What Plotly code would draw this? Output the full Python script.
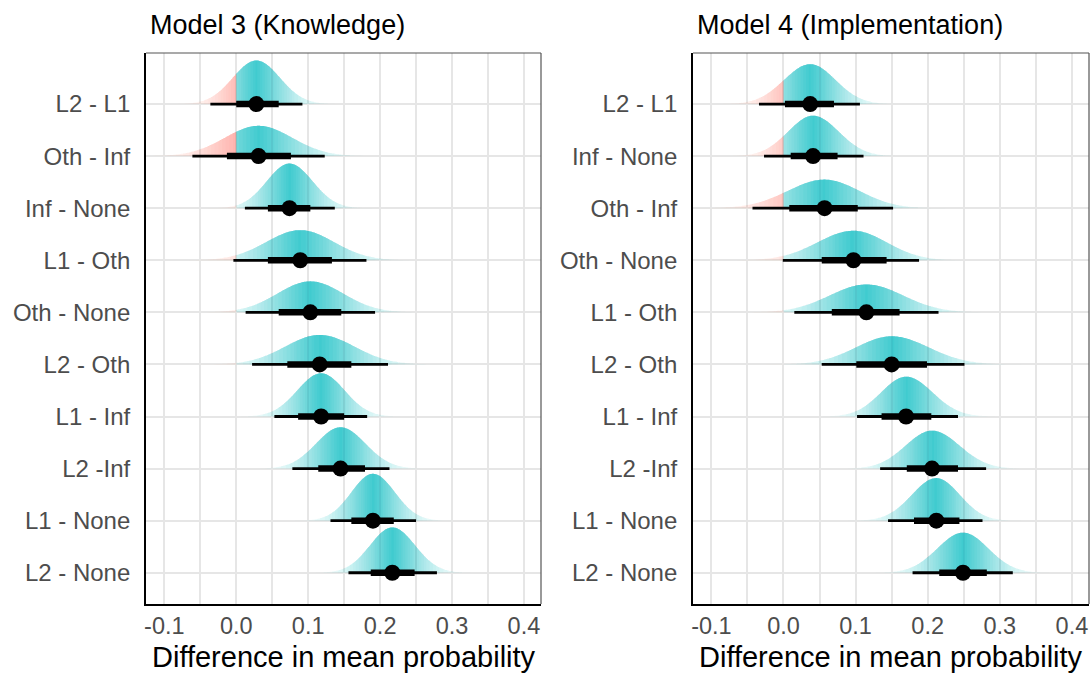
import math
import plotly.graph_objects as go

# ---------------- data ----------------
labels_m3 = ["L2 - L1", "Oth - Inf", "Inf - None", "L1 - Oth", "Oth - None",
             "L2 - Oth", "L1 - Inf", "L2 -Inf", "L1 - None", "L2 - None"]
med_m3 = [0.028, 0.031, 0.074, 0.089, 0.103, 0.116, 0.118, 0.145, 0.190, 0.217]
lo95_m3 = [-0.036, -0.061, 0.012, -0.004, 0.013, 0.022, 0.053, 0.078, 0.131, 0.156]
hi95_m3 = [0.092, 0.123, 0.137, 0.181, 0.193, 0.211, 0.182, 0.213, 0.250, 0.279]
lo66_m3 = [0.000, -0.013, 0.044, 0.044, 0.059, 0.071, 0.086, 0.114, 0.160, 0.187]
hi66_m3 = [0.059, 0.076, 0.103, 0.133, 0.146, 0.160, 0.150, 0.179, 0.219, 0.248]

labels_m4 = ["L2 - L1", "Inf - None", "Oth - Inf", "Oth - None", "L1 - Oth",
             "L2 - Oth", "L1 - Inf", "L2 -Inf", "L1 - None", "L2 - None"]
med_m4 = [0.037, 0.041, 0.057, 0.097, 0.115, 0.150, 0.170, 0.206, 0.212, 0.249]
lo95_m4 = [-0.034, -0.027, -0.043, -0.001, 0.015, 0.053, 0.102, 0.134, 0.145, 0.179]
hi95_m4 = [0.106, 0.111, 0.152, 0.188, 0.215, 0.251, 0.242, 0.281, 0.276, 0.318]
lo66_m4 = [0.002, 0.010, 0.008, 0.053, 0.067, 0.101, 0.136, 0.171, 0.181, 0.216]
hi66_m4 = [0.070, 0.075, 0.103, 0.143, 0.161, 0.199, 0.205, 0.242, 0.244, 0.282]

panel_titles = ["Model 3 (Knowledge)", "Model 4 (Implementation)"]
x_title = "Difference in mean probability"
x_ticks = [-0.1, 0.0, 0.1, 0.2, 0.3, 0.4]
x_tick_labels = ["-0.1", "0.0", "0.1", "0.2", "0.3", "0.4"]
x_minor = [-0.05, 0.05, 0.15, 0.25, 0.35]

panels = [
    dict(labels=labels_m3, med=med_m3, lo95=lo95_m3, hi95=hi95_m3, lo66=lo66_m3, hi66=hi66_m3, xa="x", ya="y"),
    dict(labels=labels_m4, med=med_m4, lo95=lo95_m4, hi95=hi95_m4, lo66=lo66_m4, hi66=hi66_m4, xa="x2", ya="y2"),
]

TEAL = (0, 191, 196)
RED = (248, 118, 109)
AMAX = 0.72
NLEV = 24
SCALE = 0.9
RAMP_POW = 0.45


def phi(z):
    return 0.5 * (1.0 + math.erf(z / math.sqrt(2.0)))


def split_params(m, lo, hi):
    return m, max((m - lo) / 1.96, 1e-4), max((hi - m) / 1.96, 1e-4)


def pdf(x, m, s1, s2):
    a = 2.0 / (math.sqrt(2 * math.pi) * (s1 + s2))
    s = s1 if x < m else s2
    return a * math.exp(-((x - m) ** 2) / (2 * s * s))


def cdf(x, m, s1, s2):
    if x < m:
        return 2 * s1 / (s1 + s2) * phi((x - m) / s1)
    return (s1 - s2) / (s1 + s2) + 2 * s2 / (s1 + s2) * phi((x - m) / s2)


def total_alpha(L):
    return AMAX * L / NLEV


# incremental alpha for nested layers so the composite equals total_alpha(L)
inc_alpha = {}
for L in range(1, NLEV + 1):
    inc_alpha[L] = 1 - (1 - total_alpha(L)) / (1 - total_alpha(L - 1))

# global normalisation of slab heights
peak_max = 0.0
for p in panels:
    for m, lo, hi in zip(p["med"], p["lo95"], p["hi95"]):
        _, s1, s2 = split_params(m, lo, hi)
        peak_max = max(peak_max, pdf(m, m, s1, s2))

fig = go.Figure()

for p in panels:
    n = len(p["labels"])
    groups = {}
    for i in range(n):
        y0 = n - i
        m, s1, s2 = split_params(p["med"][i], p["lo95"][i], p["hi95"][i])
        xa, xb = m - 3.6 * s1, m + 3.6 * s2
        N = 200
        xs = [xa + (xb - xa) * k / N for k in range(N + 1)]
        if xa < 0 < xb:
            xs.append(0.0)
        xs.append(m)
        xs = sorted(set(xs))
        hs = [SCALE * pdf(x, m, s1, s2) / peak_max for x in xs]
        levs = [int(round(max(0.0, 1 - abs(2 * cdf(x, m, s1, s2) - 1)) ** RAMP_POW * NLEV)) for x in xs]
        for L in range(1, NLEV + 1):
            idx = [k for k in range(len(xs)) if levs[k] >= L]
            if not idx:
                break
            ka, kb = idx[0], idx[-1]
            for col in ("red", "teal"):
                if col == "red":
                    ks = [k for k in range(ka, kb + 1) if xs[k] <= 0]
                else:
                    ks = [k for k in range(ka, kb + 1) if xs[k] >= 0]
                if len(ks) < 2:
                    continue
                g = groups.setdefault((col, L), ([], []))
                px = [xs[ks[0]]] + [xs[k] for k in ks] + [xs[ks[-1]], xs[ks[0]], None]
                py = [y0] + [y0 + hs[k] for k in ks] + [y0, y0, None]
                g[0].extend(px)
                g[1].extend(py)
    for (col, L), (gx, gy) in sorted(groups.items(), key=lambda t: (t[0][1], t[0][0])):
        rgb = TEAL if col == "teal" else RED
        a = inc_alpha[L]
        fig.add_trace(go.Scatter(
            x=gx, y=gy, mode="none", fill="toself",
            fillcolor=f"rgba({rgb[0]},{rgb[1]},{rgb[2]},{a:.4f})",
            hoverinfo="skip", showlegend=False, xaxis=p["xa"], yaxis=p["ya"]))

    # intervals
    tx, ty, kx, ky = [], [], [], []
    for i in range(n):
        y0 = n - i
        tx.extend([p["lo95"][i], p["hi95"][i], None])
        ty.extend([y0, y0, None])
        kx.extend([p["lo66"][i], p["hi66"][i], None])
        ky.extend([y0, y0, None])
    fig.add_trace(go.Scatter(x=tx, y=ty, mode="lines", line=dict(color="black", width=2.8),
                             hoverinfo="skip", showlegend=False, xaxis=p["xa"], yaxis=p["ya"]))
    fig.add_trace(go.Scatter(x=kx, y=ky, mode="lines", line=dict(color="black", width=6.5),
                             hoverinfo="skip", showlegend=False, xaxis=p["xa"], yaxis=p["ya"]))
    fig.add_trace(go.Scatter(x=p["med"], y=[n - i for i in range(n)], mode="markers",
                             marker=dict(color="black", size=16, line=dict(width=0)),
                             showlegend=False, xaxis=p["xa"], yaxis=p["ya"]))

FONT = "Liberation Sans, Arial, Helvetica, sans-serif"
GRID = "#E6E6E6"
W, H = 1091, 673
ydom = [(H - 604) / H, (H - 53) / H]
xdoms = [[146 / W, 541 / W], [693 / W, 1089 / W]]

layout = dict(
    width=W, height=H, margin=dict(l=0, r=0, t=0, b=0),
    paper_bgcolor="white", plot_bgcolor="white", showlegend=False,
    font=dict(family=FONT, color="#4D4D4D"),
)
for j, p in enumerate(panels):
    n = len(p["labels"])
    sx = "xaxis" if j == 0 else "xaxis2"
    sy = "yaxis" if j == 0 else "yaxis2"
    layout[sx] = dict(
        domain=xdoms[j], anchor=p["ya"], range=[-0.1255, 0.4237],
        tickmode="array", tickvals=x_ticks, ticktext=x_tick_labels,
        showgrid=True, gridcolor=GRID, gridwidth=1.6,
        minor=dict(tickmode="array", tickvals=x_minor, showgrid=True, gridcolor=GRID, gridwidth=1.6),
        showline=True, linecolor="black", linewidth=1.8, zeroline=False,
        ticks="", tickfont=dict(size=23.5, color="#4D4D4D", family=FONT),
        automargin=False, fixedrange=True,
    )
    layout[sy] = dict(
        domain=ydom, anchor=p["xa"], range=[0.4, 10.98],
        tickmode="array", tickvals=[n - i for i in range(n)], ticktext=p["labels"],
        showgrid=True, gridcolor=GRID, gridwidth=1.6,
        showline=True, linecolor="black", linewidth=1.8, zeroline=False,
        ticks="", ticklabelstandoff=9, tickfont=dict(size=24, color="#4D4D4D", family=FONT),
        automargin=False, fixedrange=True,
    )

shapes = []
for j, p in enumerate(panels):
    xr = p["xa"] + " domain"
    yr = p["ya"] + " domain"
    shapes.append(dict(type="line", xref=xr, yref=yr, x0=0, x1=1, y0=1, y1=1,
                       line=dict(color="#555555", width=1.2)))
    shapes.append(dict(type="line", xref=xr, yref=yr, x0=1, x1=1, y0=0, y1=1,
                       line=dict(color="#555555", width=1.2)))
layout["shapes"] = shapes

annotations = []
for j in range(2):
    annotations.append(dict(text=panel_titles[j], xref="paper", yref="paper",
                            x=(148 if j == 0 else 695) / W, y=1 - 25 / H,
                            xanchor="left", yanchor="middle", showarrow=False,
                            font=dict(size=27, color="black", family=FONT)))
    annotations.append(dict(text=x_title, xref="paper", yref="paper",
                            x=(xdoms[j][0] + xdoms[j][1]) / 2, y=1 - 657 / H,
                            xanchor="center", yanchor="middle", showarrow=False,
                            font=dict(size=29, color="black", family=FONT)))
layout["annotations"] = annotations

fig.update_layout(**layout)
fig.write_html("out.html")
